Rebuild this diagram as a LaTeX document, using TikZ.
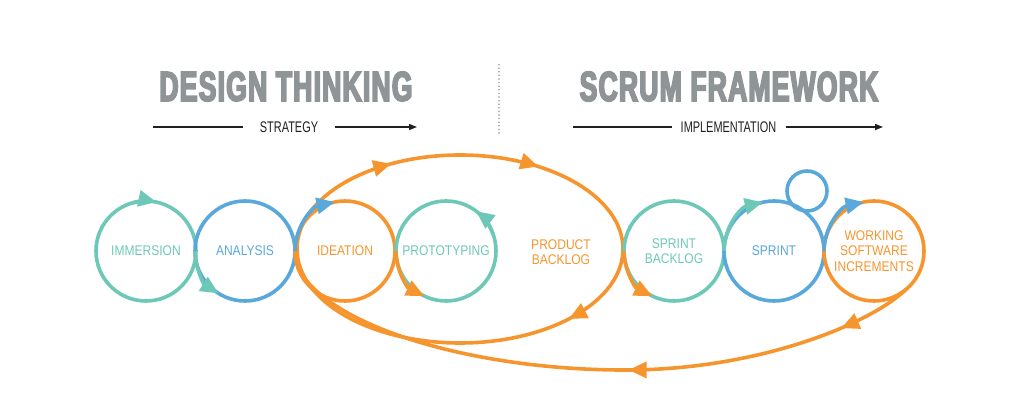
\documentclass[tikz,border=0pt]{standalone}
\usepackage{fontspec}
\setmainfont{Liberation Sans}
\newfontfamily\headfont[FakeStretch=0.63,FakeBold=4,LetterSpace=3]{Liberation Sans}
\newfontfamily\subfont[FakeStretch=0.71]{Liberation Sans}
\newfontfamily\stagefont[FakeStretch=0.86]{Liberation Sans}
\usetikzlibrary{arrows.meta,decorations.markings}
\definecolor{dtteal}{HTML}{6DC8B7}
\definecolor{dtblue}{HTML}{58A8DB}
\definecolor{dtorange}{HTML}{F6952E}
\definecolor{dtgrey}{HTML}{8F9597}
\definecolor{dtink}{HTML}{231F20}
\tikzset{
    bigtip/.tip={Triangle[length=18pt,width=16pt]},
    stage/.style={circle,draw=#1,text=#1,line width=3.6pt,minimum size=100pt,
        inner sep=0pt,outer sep=0pt,align=center,
        font=\stagefont\fontsize{14}{15.5}\selectfont},
    turn/.style={draw=#1,line width=3.6pt,-bigtip},
    loopline/.style={draw=dtorange,color=dtorange,line width=3.6pt,postaction={decorate}},
    heading/.style={text=dtgrey,inner sep=0pt,font=\headfont\bfseries\fontsize{42}{42}\selectfont},
    phase/.style={text=dtink,inner ysep=0pt,font=\subfont\fontsize{15.4}{16}\selectfont},
    rule/.style={draw=dtink,line width=1.4pt}
}
\begin{document}
\begin{tikzpicture}[x=1pt,y=1pt]
    \useasboundingbox (0,0) rectangle (1024,409);
    \node[heading] (dt) at (286,322.5) {DESIGN THINKING};
    \node[heading] (sf) at (729,322.5) {SCRUM FRAMEWORK};
    \node[phase,inner xsep=17pt] (strat) at (289,282) {STRATEGY};
    \node[phase,inner xsep=9pt] (impl) at (728.5,282) {IMPLEMENTATION};
    \coordinate (s0) at (153,282);
    \coordinate (s1) at (417,282);
    \coordinate (i0) at (573,282);
    \coordinate (i1) at (883,282);
    \draw[rule] (s0) -- (strat.west);
    \draw[rule,-{Triangle[length=8pt,width=6pt]}] (strat.east) -- (s1);
    \draw[rule] (i0) -- (impl.west);
    \draw[rule,-{Triangle[length=8pt,width=6pt]}] (impl.east) -- (i1);
    \coordinate (d0) at (499,276);
    \coordinate (d1) at (499,347);
    \draw[dtgrey,line width=1.7pt,line cap=round,dash pattern=on 0pt off 3.6pt] (d0) -- (d1);
    \coordinate (pbl) at (460,160);
    \draw[loopline,decoration={markings,
            mark=at position 136pt with {\arrow{bigtip}},
            mark=at position 285pt with {\arrow{bigtip}},
            mark=at position 504pt with {\arrow{bigtip}}}]
        ([shift={(-163,0)}]pbl) arc[start angle=180,end angle=-180,x radius=163,y radius=94];
    \node[stage=dtteal] (imm) at (146,158) {IMMERSION};
    \node[stage=dtblue] (ana) at (245,158) {ANALYSIS};
    \node[stage=dtorange] (ide) at (345,158) {IDEATION};
    \node[stage=dtteal] (pro) at (446,158) {PROTOTYPING};
    \node[text=dtorange,align=center,font=\stagefont\fontsize{14}{15.5}\selectfont] (pb) at (561,157) {PRODUCT\\BACKLOG};
    \node[stage=dtteal] (sbl) at (674,158) {SPRINT\\BACKLOG};
    \node[stage=dtblue] (spr) at (774,158) {SPRINT};
    \node[stage=dtblue,minimum size=40pt] (day) at (807,218) {};
    \node[stage=dtorange] (wsi) at (874,158) {WORKING\\SOFTWARE\\INCREMENTS};
    \draw[turn=dtteal] ([shift={(106:50)}]imm.center) arc[start angle=106,end angle=78,radius=50];
    \draw[turn=dtteal] (ana.west) arc[start angle=180,end angle=238,radius=50];
    \draw[turn=dtblue] (ide.west) arc[start angle=180,end angle=102,radius=50];
    \draw[turn=dtorange] (pro.west) arc[start angle=180,end angle=244,radius=50];
    \draw[turn=dtteal] ([shift={(20:50)}]pro.center) arc[start angle=20,end angle=53,radius=50];
    \draw[turn=dtorange] (sbl.west) arc[start angle=180,end angle=244,radius=50];
    \draw[turn=dtteal] (spr.west) arc[start angle=180,end angle=103,radius=50];
    \draw[turn=dtblue] (wsi.west) arc[start angle=180,end angle=102,radius=50];
    \draw[loopline,decoration={markings,
            mark=at position 76pt with {\arrow{bigtip}},
            mark=at position 294pt with {\arrow{bigtip}}}]
        (wsi.-50) .. controls (870,85) and (760,40) .. (630,39)
        .. controls (480,38) and (330,80) .. (ide.200);
\end{tikzpicture}
\end{document}
